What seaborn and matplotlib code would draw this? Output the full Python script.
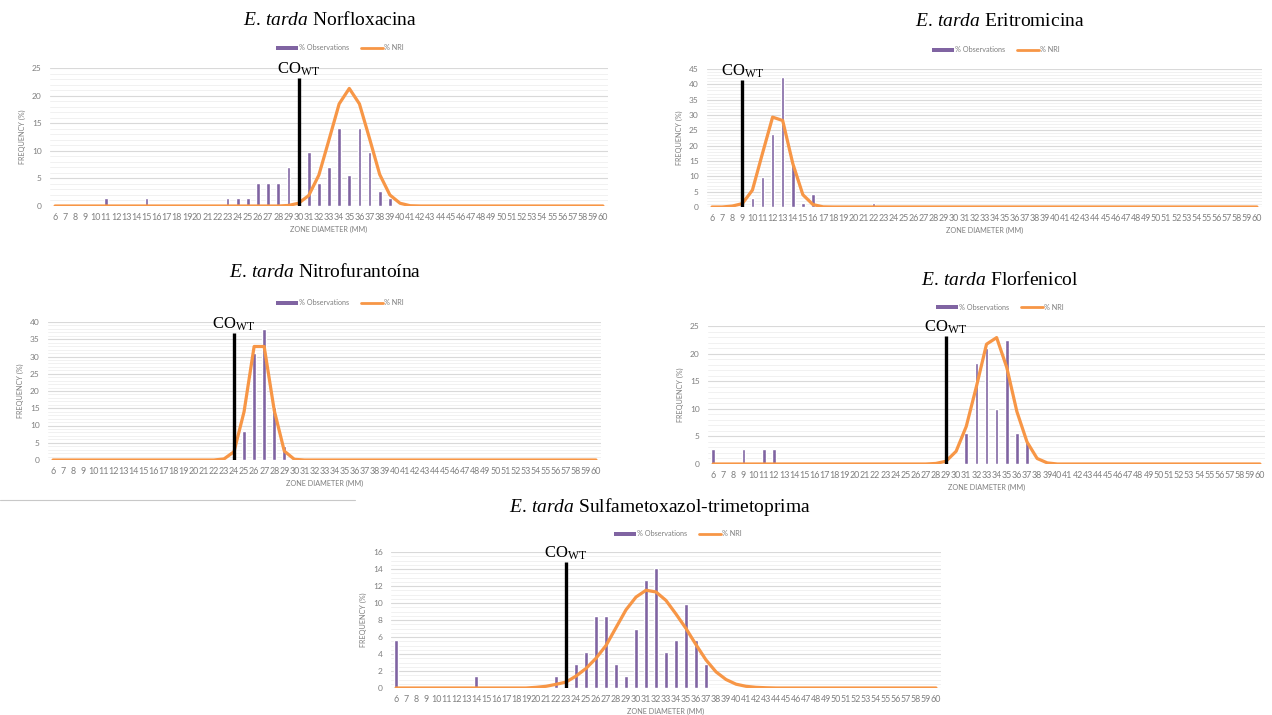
import numpy as np
import pandas as pd
import matplotlib
matplotlib.use("Agg")
import matplotlib.pyplot as plt
import seaborn as sns
from matplotlib.lines import Line2D
from matplotlib.patches import Patch
from matplotlib.ticker import MultipleLocator

# ---------------- data ----------------
diameters = list(range(6, 61))
tick_labels = [str(d) for d in diameters]

norflox_obs = {11: 1.4, 15: 1.4, 23: 1.4, 24: 1.4, 25: 1.4, 26: 4.2, 27: 4.2, 28: 4.2,
               29: 7.0, 31: 9.8, 32: 4.2, 33: 7.0, 34: 14.1, 35: 5.6, 36: 14.1,
               37: 9.8, 38: 2.8, 39: 1.4}
norflox_nri = {29: 0.1, 30: 0.5, 31: 1.9, 32: 5.6, 33: 12.0, 34: 18.5, 35: 21.3,
               36: 18.5, 37: 12.2, 38: 5.7, 39: 2.0, 40: 0.5, 41: 0.05}
norflox_cutoff, norflox_cut_h = 30, 23.2

eritro_obs = {10: 2.8, 11: 9.9, 12: 23.9, 13: 42.3, 14: 14.1, 15: 1.4, 16: 4.2, 22: 1.4}
eritro_nri = {8: 0.3, 9: 1.1, 10: 5.5, 11: 17.5, 12: 29.3, 13: 28.2, 14: 14.2,
              15: 4.0, 16: 0.8, 17: 0.05}
eritro_cutoff, eritro_cut_h = 9, 41.4

nitro_obs = {25: 8.5, 26: 31.0, 27: 38.0, 28: 15.5, 29: 4.2}
nitro_nri = {23: 0.3, 24: 2.4, 25: 14.0, 26: 32.9, 27: 32.9, 28: 14.4, 29: 2.6, 30: 0.2}
nitro_cutoff, nitro_cut_h = 24, 36.8

florf_obs = {6: 2.8, 9: 2.8, 11: 2.8, 12: 2.8, 31: 5.6, 32: 18.3, 33: 21.1, 34: 9.9,
             35: 22.5, 36: 5.6, 37: 4.2}
florf_nri = {28: 0.1, 29: 0.5, 30: 2.3, 31: 6.8, 32: 14.0, 33: 21.7, 34: 22.9,
             35: 17.5, 36: 9.5, 37: 4.0, 38: 1.0, 39: 0.2}
florf_cutoff, florf_cut_h = 29, 23.2

sxt_obs = {6: 5.6, 14: 1.4, 22: 1.4, 24: 2.8, 25: 4.2, 26: 8.5, 27: 8.5, 28: 2.8,
           29: 1.4, 30: 7.0, 31: 12.7, 32: 14.1, 33: 4.2, 34: 5.6, 35: 9.9, 36: 5.6, 37: 2.8}
sxt_nri = {20: 0.08, 21: 0.2, 22: 0.43, 23: 0.7, 24: 1.4, 25: 2.3, 26: 3.5, 27: 5.0,
           28: 7.1, 29: 9.2, 30: 10.7, 31: 11.5, 32: 11.3, 33: 10.3, 34: 8.7, 35: 7.0,
           36: 5.1, 37: 3.3, 38: 1.9, 39: 1.0, 40: 0.45, 41: 0.2, 42: 0.08, 43: 0.03}
sxt_cutoff, sxt_cut_h = 23, 14.8

titles = ["Norfloxacina", "Eritromicina", "Nitrofurantoína", "Florfenicol",
          "Sulfametoxazol-trimetoprima"]
series_names = ["% Observations", "% NRI"]

# ---------------- style ----------------
sns.set_theme(style="white")
plt.rcParams["font.family"] = ["Lato", "DejaVu Sans"]
plt.rcParams["mathtext.fontset"] = "custom"
plt.rcParams["mathtext.rm"] = "Liberation Serif"
plt.rcParams["mathtext.it"] = "Liberation Serif:italic"

PURPLE = "#8064A2"
ORANGE = "#F79646"
GRID = "#D9D9D9"
MINOR = "#EFEFEF"
TXT = "#7F7F7F"
SERIF = ["Liberation Serif", "DejaVu Serif"]

W, H = 1272, 715
fig = plt.figure(figsize=(W / 100, H / 100), dpi=100)
fig.patch.set_facecolor("white")


def rect(l, r, t, b):
    return [l / W, 1 - b / H, (r - l) / W, (b - t) / H]


panels = [
    dict(obs=norflox_obs, nri=norflox_nri, cut=norflox_cutoff, cut_h=norflox_cut_h,
         title=titles[0], ymax=25, step=5, minor=1,
         box=(50, 608, 68, 206), tpos=(330, 20), lpos=(340, 48)),
    dict(obs=eritro_obs, nri=eritro_nri, cut=eritro_cutoff, cut_h=eritro_cut_h,
         title=titles[1], ymax=45, step=5, minor=1,
         box=(707, 1262, 69, 207), tpos=(1000, 22), lpos=(996, 50)),
    dict(obs=nitro_obs, nri=nitro_nri, cut=nitro_cutoff, cut_h=nitro_cut_h,
         title=titles[2], ymax=40, step=5, minor=1,
         box=(48, 601, 322, 460), tpos=(325, 272), lpos=(340, 303)),
    dict(obs=florf_obs, nri=florf_nri, cut=florf_cutoff, cut_h=florf_cut_h,
         title=titles[3], ymax=25, step=5, minor=1,
         box=(708, 1265, 326, 464), tpos=(1000, 280), lpos=(1000, 307)),
    dict(obs=sxt_obs, nri=sxt_nri, cut=sxt_cutoff, cut_h=sxt_cut_h,
         title=titles[4], ymax=16, step=2, minor=0.5,
         box=(391, 941, 552, 688), tpos=(660, 507), lpos=(678, 534)),
]

for p in panels:
    ax = fig.add_axes(rect(*p["box"]))
    obs = [p["obs"].get(d, 0.0) for d in diameters]
    nri = [p["nri"].get(d, 0.0) for d in diameters]
    df = pd.DataFrame({"diam": diameters, "obs": obs, "nri": nri})

    sns.barplot(data=df, x="diam", y="obs", native_scale=True, width=0.36,
                color=PURPLE, saturation=1, ax=ax, zorder=2)
    sns.lineplot(data=df, x="diam", y="nri", color=ORANGE, lw=2.3, ax=ax, zorder=3)
    ax.plot([p["cut"], p["cut"]], [0, p["cut_h"]], color="black", lw=2.4,
            zorder=4, solid_capstyle="butt")
    ax.text(p["cut"], p["cut_h"] , r"CO$_{\mathrm{WT}}$", ha="center", va="bottom",
            fontsize=12, color="black", zorder=5, clip_on=False, family=SERIF)

    ax.set_xlim(diameters[0] - 0.5, diameters[-1] + 0.5)
    ax.set_ylim(0, p["ymax"])
    ax.set_xticks(diameters)
    ax.set_xticklabels(tick_labels, fontsize=6.4, color=TXT)
    ax.yaxis.set_major_locator(MultipleLocator(p["step"]))
    ax.yaxis.set_minor_locator(MultipleLocator(p["minor"]))
    ax.tick_params(axis="both", which="both", length=0)
    ax.tick_params(axis="x", pad=5)
    ax.tick_params(axis="y", pad=6, labelsize=6, labelcolor=TXT)
    ax.grid(axis="y", which="major", color=GRID, lw=0.8, zorder=0)
    ax.grid(axis="y", which="minor", color=MINOR, lw=0.6, zorder=0)
    ax.grid(axis="x", visible=False)
    ax.set_axisbelow(True)
    for s in ax.spines.values():
        s.set_visible(False)
    ax.set_xlabel("ZONE DIAMETER (MM)", fontsize=5.2, color=TXT, labelpad=3)
    ax.set_ylabel("FREQUENCY (%)", fontsize=5.2, color=TXT, labelpad=4)

    handles = [Patch(facecolor=PURPLE, edgecolor="none"),
               Line2D([0], [0], color=ORANGE, lw=2.0)]
    lx, ly = p["lpos"]
    fig.legend(handles, series_names, loc="center", ncol=2, frameon=False,
               bbox_to_anchor=(lx / W, 1 - ly / H), fontsize=5.2,
               labelcolor=TXT, handlelength=3.0, handleheight=0.5,
               handletextpad=0.2, columnspacing=1.6)

    tx, ty = p["tpos"]
    fig.text(tx / W, 1 - ty / H, r"$\mathit{E.\,tarda}$ " + p["title"],
             ha="center", va="center", fontsize=14,
             family=SERIF, color="black")

# grey edge lines from the pasted picture under the third panel
fig.add_artist(Line2D([0, 355 / W], [1 - 500 / H, 1 - 500 / H], color="#C8C8C8", lw=0.8))

fig.savefig("out.png", dpi=100, facecolor="white")
